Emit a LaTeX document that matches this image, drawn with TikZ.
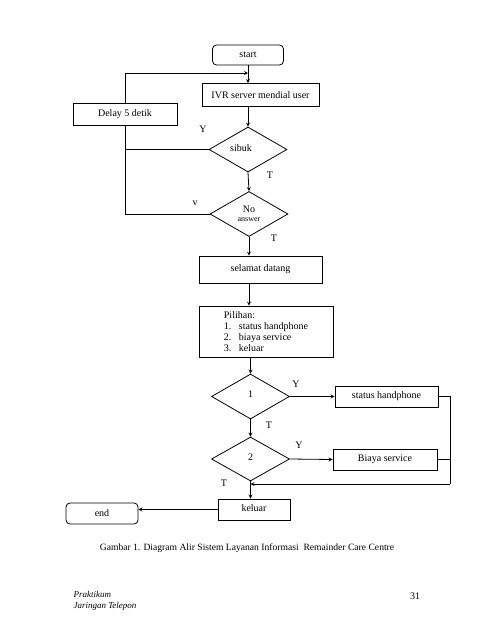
\documentclass[tikz,border=0pt]{standalone}
\usepackage{fontspec}
\setmainfont{Liberation Serif}
\usepackage{tikz}
\usetikzlibrary{arrows.meta,shapes.geometric,positioning,calc}
\tikzset{
  flowbox/.style={
    rectangle, draw=black, line width=0.8pt, inner sep=0pt,
    font=\fontsize{10}{12}\selectfont
  },
  termbox/.style={flowbox, rounded corners=4pt},
  decision/.style={
    diamond, draw=black, line width=0.8pt, inner sep=0pt,
    minimum width=78pt, minimum height=45pt,
    font=\fontsize{10}{12}\selectfont
  },
  flowline/.style={line width=0.8pt, color=black},
  flowArrow/.style={->, >=stealth, line width=0.8pt, color=black},
  yt/.style={font=\fontsize{10}{12}\selectfont}
}
\begin{document}
\begin{tikzpicture}[x=1pt, y=-1pt]
        \useasboundingbox[fill=white] (0,0) rectangle (495,640);
        % upper part: dialling loop
        \node[termbox, minimum width=71pt, minimum height=20pt] (start) at (248,55) {start};
        \node[flowbox, minimum width=117pt, minimum height=23pt] (ivr) at (260.5,95)
          {IVR server mendial user};
        \node[flowbox, minimum width=104pt, minimum height=22pt] (delay) at (125,114)
          {Delay 5 detik};
        \node[decision] (sibuk) at (248,149.5) {\raisebox{2pt}{sibuk\hspace{14pt}}};
        \node[decision, align=center] (noans) at (249,214)
          {No\\[-3pt]{\fontsize{8}{9}\selectfont answer}};
        \coordinate (loop) at (125,73);
        \coordinate (merge) at (248,73);
        \draw[flowArrow] (start) -- (start |- ivr.north);
        \draw[flowArrow] (delay.north) -- (loop) -- (merge);
        \draw[flowArrow] (sibuk.north |- ivr.south) -- (sibuk.north);
        \draw[flowArrow] (sibuk.south) -- (noans.north);
        \draw[flowline] (delay.south) -- (delay.south |- noans.west) -- (noans.west);
        \draw[flowline] (delay.south |- sibuk.west) -- (sibuk.west);
        \node[yt] (ysibuk) at (203,129) {Y};
        \node[yt] (tsibuk) at (270,175) {T};
        \node[yt] (ynoans) at (195,203) {v};
        \node[yt] (tnoans) at (274,238) {T};
        % menu
        \node[flowbox, minimum width=123pt, minimum height=27pt] (selamat) at (260.5,269.5)
          {selamat datang};
        \node[flowbox, minimum width=134pt, minimum height=51pt, align=left] (pilihan)
          at (266,331.5)
          {Pilihan:\\[-1pt]\makebox[15pt][l]{1.}status handphone\\[-1pt]
           \makebox[15pt][l]{2.}biaya service\\[-1pt]\makebox[15pt][l]{3.}keluar};
        \draw[flowArrow] (noans.south) -- (noans.south |- selamat.north);
        \draw[flowArrow] (noans.south |- selamat.south) -- (noans.south |- pilihan.north);
        % choices
        \node[decision] (pil1) at (250.5,396.5) {\raisebox{4pt}{1}};
        \node[decision, minimum height=44pt] (pil2) at (250.5,459) {\raisebox{4pt}{2}};
        \node[flowbox, minimum width=103pt, minimum height=21pt] (status) at (386.5,396.5)
          {status handphone};
        \node[flowbox, minimum width=104pt, minimum height=21pt] (biaya) at (385,459.5)
          {Biaya service};
        \node[flowbox, minimum width=72pt, minimum height=21pt] (keluar) at (254,509.5)
          {\raisebox{2pt}{keluar}};
        \node[termbox, minimum width=72pt, minimum height=21pt] (end) at (102,513.5) {end};
        \draw[flowArrow] (pil1.north |- pilihan.south) -- (pil1.north);
        \draw[flowArrow] (pil1.east) -- (status.west);
        \draw[flowArrow] (pil1.south) -- (pil2.north);
        \draw[flowArrow] (pil2.east) -- (biaya.west);
        \coordinate (back) at (450,484);
        \draw[flowline] (status.east) -- (status.east -| back) -- (back);
        \draw[flowline] (biaya.east) -- (biaya.east -| back);
        \draw[flowArrow] (back) -- (back -| pil2.south);
        \draw[flowArrow] (pil2.south) -- (pil2.south |- keluar.north);
        \draw[flowArrow] (keluar.west) -- (keluar.west -| end.east);
        \node[yt] (ypil1) at (296,384) {Y};
        \node[yt] (tpil1) at (269,425) {T};
        \node[yt] (ypil2) at (299,445) {Y};
        \node[yt] (tpil2) at (224,483) {T};
        % caption and footer
        \node[font=\fontsize{9.6}{12}\selectfont] (caption) at (247,548)
          {Gambar 1. Diagram Alir Sistem Layanan Informasi \ Remainder Care Centre};
        \node[font=\fontsize{9}{10.5}\selectfont\itshape, align=left, anchor=north west]
          (footer) at (70,588) {Praktikum\\Jaringan Telepon};
        \node[font=\fontsize{10}{12}\selectfont] (page) at (415,596) {31};
      \end{tikzpicture}
\end{document}
